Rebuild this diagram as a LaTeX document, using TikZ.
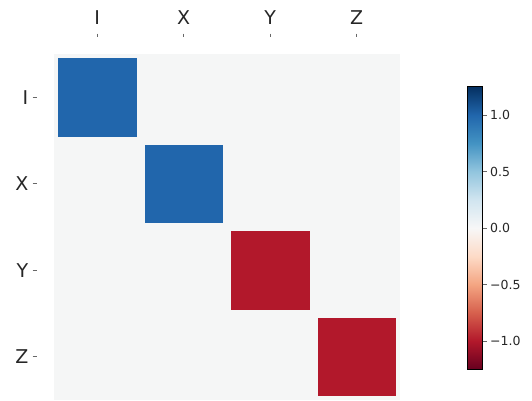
\documentclass[tikz,border=0pt]{standalone}
\usepackage{fontspec}
\setmainfont{DejaVu Sans}
\definecolor{bgc}{RGB}{245,246,246}
\definecolor{posc}{RGB}{33,102,172}
\definecolor{negc}{RGB}{178,24,43}
\definecolor{txt}{RGB}{38,38,38}
\definecolor{c0}{HTML}{67001F}
\definecolor{c1}{HTML}{B2182B}
\definecolor{c2}{HTML}{D6604D}
\definecolor{c3}{HTML}{F4A582}
\definecolor{c4}{HTML}{FDDBC7}
\definecolor{c5}{HTML}{F7F7F7}
\definecolor{c6}{HTML}{D1E5F0}
\definecolor{c7}{HTML}{92C5DE}
\definecolor{c8}{HTML}{4393C3}
\definecolor{c9}{HTML}{2166AC}
\definecolor{c10}{HTML}{053061}
\pgfdeclareverticalshading{rdbu}{100bp}{color(0bp)=(c0); color(25bp)=(c0); color(30bp)=(c1); color(35bp)=(c2); color(40bp)=(c3); color(45bp)=(c4); color(50bp)=(c5); color(55bp)=(c6); color(60bp)=(c7); color(65bp)=(c8); color(70bp)=(c9); color(75bp)=(c10); color(100bp)=(c10)}
\tikzset{
  axlabel/.style={text=txt, font=\fontsize{19}{22}\selectfont, inner sep=0pt},
  cblabel/.style={text=txt, font=\fontsize{12.5}{15}\selectfont, inner sep=0pt, anchor=west},
  tickmark/.style={draw=txt!70, line width=0.8pt},
  cell/.style={draw=none}
}
\begin{document}
\begin{tikzpicture}[x=1pt,y=-1pt]
\useasboundingbox (0,0) rectangle (532,400);
% background of matrix
\fill[bgc] (54,54) rectangle (400,400);
% cells
\fill[posc] (58,58) rectangle (136.5,136.5);
\fill[posc] (144.5,144.5) rectangle (223,223);
\fill[negc] (231,231) rectangle (309.5,309.5);
\fill[negc] (317.5,317.5) rectangle (396,396);
% top labels
\foreach \n/\t [count=\i from 0] in {tI/I,tX/X,tY/Y,tZ/Z}{
  \node[axlabel] (\n) at ({97.25+86.5*\i},18) {\t};
  \coordinate (\n a) at ({97.25+86.5*\i},33.5);
  \coordinate (\n b) at ({97.25+86.5*\i},37);
  \draw[tickmark] (\n a) -- (\n b);
}
% left labels
\foreach \n/\t [count=\i from 0] in {lI/I,lX/X,lY/Y,lZ/Z}{
  \node[axlabel, anchor=east] (\n) at (28.5,{97.25+86.5*\i}) {\t};
  \coordinate (\n a) at (32.5,{97.25+86.5*\i});
  \coordinate (\n b) at (36.5,{97.25+86.5*\i});
  \draw[tickmark] (\n a) -- (\n b);
}
% colorbar
\shade[shading=rdbu] (467,86.75) rectangle (482.5,369.25);
\draw[black, line width=0.8pt] (467,86.75) rectangle (482.5,369.25);
\foreach \n/\v/\t in {cA/1/1.0,cB/0.5/0.5,cC/0/0.0,cD/-0.5/−0.5,cE/-1/−1.0}{
  \coordinate (\n a) at (482.5,{228-113*\v});
  \coordinate (\n b) at (486.5,{228-113*\v});
  \draw[tickmark] (\n a) -- (\n b);
  \node[cblabel] (\n) at (490,{228-113*\v}) {\t};
}
\end{tikzpicture}
\end{document}
